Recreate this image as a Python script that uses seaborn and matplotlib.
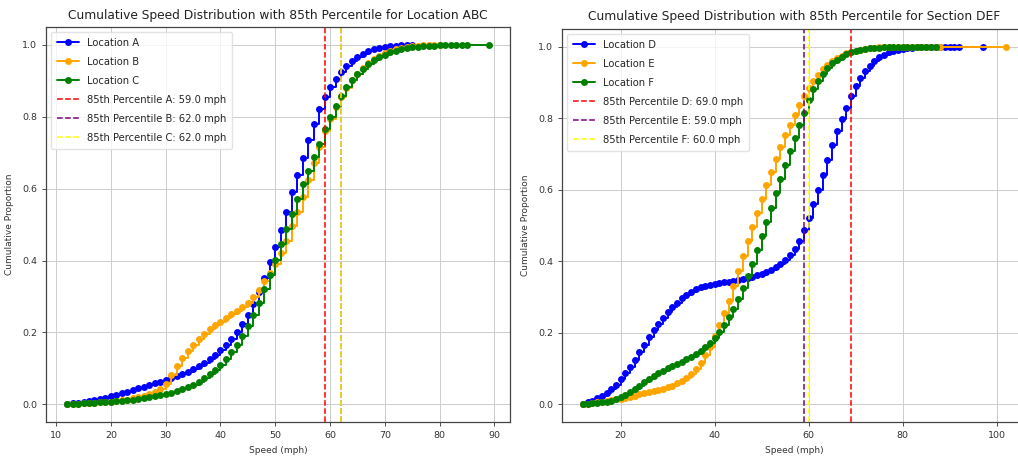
import numpy as np
import pandas as pd
import matplotlib
matplotlib.use('Agg')
import matplotlib.pyplot as plt
import seaborn as sns

# speeds (mph) and cumulative proportions
speeds_a = list(range(12, 76))
cum_a = [0.001, 0.002, 0.004, 0.006, 0.008, 0.011, 0.014, 0.018, 0.022, 0.026,
         0.030, 0.035, 0.040, 0.044, 0.049, 0.054, 0.058, 0.063, 0.068, 0.073,
         0.079, 0.085, 0.091, 0.098, 0.106, 0.115, 0.125, 0.136, 0.150, 0.165,
         0.182, 0.200, 0.222, 0.248, 0.278, 0.312, 0.352, 0.395, 0.438, 0.485,
         0.535, 0.590, 0.638, 0.685, 0.735, 0.780, 0.822, 0.855, 0.882, 0.905,
         0.925, 0.942, 0.955, 0.967, 0.976, 0.983, 0.988, 0.992, 0.995, 0.997,
         0.998, 0.999, 0.9995, 1.0]

speeds_b = list(range(12, 81))
cum_b = [0.0005, 0.001, 0.0015, 0.002, 0.003, 0.004, 0.005, 0.006, 0.007, 0.009,
         0.011, 0.013, 0.016, 0.019, 0.023, 0.028, 0.034, 0.042, 0.055, 0.080,
         0.105, 0.128, 0.148, 0.166, 0.182, 0.196, 0.208, 0.220, 0.230, 0.240,
         0.250, 0.260, 0.270, 0.283, 0.298, 0.318, 0.342, 0.365, 0.390, 0.420,
         0.455, 0.495, 0.535, 0.578, 0.625, 0.670, 0.715, 0.760, 0.795, 0.828,
         0.855, 0.880, 0.902, 0.920, 0.936, 0.950, 0.961, 0.970, 0.977, 0.983,
         0.988, 0.992, 0.995, 0.997, 0.998, 0.999, 0.9995, 0.9998, 1.0]

speeds_c = list(range(12, 86)) + [89]
cum_c = [0.0005, 0.001, 0.0015, 0.002, 0.003, 0.004, 0.005, 0.006, 0.007, 0.008,
         0.009, 0.011, 0.013, 0.015, 0.017, 0.019, 0.022, 0.025, 0.028, 0.032,
         0.036, 0.041, 0.047, 0.054, 0.062, 0.072, 0.083, 0.096, 0.110, 0.126,
         0.144, 0.165, 0.190, 0.218, 0.248, 0.282, 0.320, 0.360, 0.402, 0.445,
         0.488, 0.530, 0.572, 0.612, 0.650, 0.688, 0.725, 0.765, 0.800, 0.830,
         0.858, 0.882, 0.902, 0.919, 0.934, 0.947, 0.957, 0.966, 0.973, 0.979,
         0.984, 0.988, 0.991, 0.993, 0.995, 0.996, 0.997, 0.998, 0.9985, 0.999,
         0.9993, 0.9995, 0.9997, 0.9998, 1.0]

speeds_d = list(range(12, 93)) + [97]
cum_d = [0.002, 0.006, 0.011, 0.017, 0.024, 0.032, 0.042, 0.055, 0.070, 0.087,
         0.105, 0.125, 0.146, 0.167, 0.188, 0.207, 0.225, 0.242, 0.258, 0.272,
         0.285, 0.297, 0.307, 0.315, 0.322, 0.327, 0.331, 0.334, 0.337, 0.339,
         0.341, 0.343, 0.345, 0.347, 0.350, 0.353, 0.357, 0.361, 0.366, 0.371,
         0.377, 0.384, 0.393, 0.404, 0.418, 0.435, 0.458, 0.487, 0.522, 0.560,
         0.600, 0.642, 0.684, 0.725, 0.763, 0.798, 0.830, 0.862, 0.889, 0.912,
         0.931, 0.947, 0.960, 0.970, 0.978, 0.984, 0.989, 0.992, 0.994, 0.996,
         0.997, 0.998, 0.9985, 0.999, 0.9993, 0.9995, 0.9996, 0.9997, 0.9998, 0.9999,
         0.9999, 1.0]

speeds_e = list(range(12, 89)) + [102]
cum_e = [0.001, 0.002, 0.004, 0.006, 0.008, 0.010, 0.012, 0.014, 0.016, 0.019,
         0.022, 0.025, 0.028, 0.031, 0.034, 0.037, 0.040, 0.044, 0.048, 0.053,
         0.059, 0.066, 0.075, 0.086, 0.100, 0.117, 0.137, 0.162, 0.192, 0.222,
         0.255, 0.290, 0.330, 0.372, 0.414, 0.456, 0.496, 0.536, 0.575, 0.613,
         0.650, 0.686, 0.720, 0.752, 0.782, 0.810, 0.838, 0.862, 0.885, 0.905,
         0.922, 0.937, 0.950, 0.960, 0.968, 0.975, 0.981, 0.985, 0.989, 0.992,
         0.994, 0.996, 0.997, 0.998, 0.9985, 0.999, 0.9992, 0.9994, 0.9995, 0.9996,
         0.9997, 0.9997, 0.9998, 0.9998, 0.9999, 0.9999, 0.9999, 1.0]

speeds_f = list(range(12, 88))
cum_f = [0.001, 0.002, 0.003, 0.004, 0.006, 0.008, 0.011, 0.015, 0.020, 0.027,
         0.035, 0.044, 0.053, 0.062, 0.071, 0.079, 0.087, 0.094, 0.101, 0.107,
         0.113, 0.119, 0.126, 0.133, 0.141, 0.150, 0.160, 0.172, 0.186, 0.203,
         0.222, 0.244, 0.268, 0.295, 0.325, 0.358, 0.394, 0.432, 0.470, 0.510,
         0.550, 0.590, 0.630, 0.670, 0.708, 0.745, 0.780, 0.815, 0.850, 0.882,
         0.905, 0.925, 0.941, 0.954, 0.964, 0.972, 0.979, 0.984, 0.988, 0.991,
         0.993, 0.995, 0.996, 0.997, 0.998, 0.9985, 0.999, 0.9993, 0.9995, 0.9996,
         0.9997, 0.9998, 0.9998, 0.9999, 0.9999, 1.0]

p85_abc = [59.0, 62.0, 62.0]
p85_def = [69.0, 59.0, 60.0]

series_colors = ['blue', 'orange', 'green']
line_colors = ['red', 'purple', 'yellow']

sns.set_style('white')
plt.rcParams['font.family'] = ['DejaVu Sans']

fig = plt.figure(figsize=(10.18, 4.62), dpi=100)
ax1 = fig.add_axes([0.0452, 0.0866, 0.4558, 0.855])
ax2 = fig.add_axes([0.552, 0.0866, 0.457, 0.851])


def draw_panel(ax, names, speeds, cums, p85, title):
    for name, x, y, c in zip(names, speeds, cums, series_colors):
        df = pd.DataFrame({'Speed': x, 'Cum': y})
        sns.lineplot(data=df, x='Speed', y='Cum', ax=ax, color=c, marker='o',
                     markersize=5, markeredgecolor=c, markeredgewidth=0,
                     linewidth=1.4, drawstyle='steps-post', label=f'Location {name}')
    for name, v, c in zip(names, p85, line_colors):
        ax.axvline(v, color=c, linestyle='--', linewidth=1.1,
                   label=f'85th Percentile {name}: {v:.1f} mph')
    ax.set_title(title, fontsize=8.8, color='#222222')
    ax.set_xlabel('Speed (mph)', fontsize=6.5, color='#333333')
    ax.set_ylabel('Cumulative Proportion', fontsize=6.5, color='#333333', labelpad=6)
    ax.tick_params(labelsize=6.8, colors='#333333', length=3, width=0.6,
                   left=True, bottom=True)
    ax.grid(True, color='#cccccc', linewidth=0.7)
    for s in ax.spines.values():
        s.set_color('#444444')
        s.set_linewidth(0.9)
    ax.legend(loc='upper left', fontsize=7.2, frameon=True, framealpha=0.8,
              edgecolor='#dddddd', handlelength=2.2, borderpad=0.6,
              labelspacing=0.9)


draw_panel(ax1, ['A', 'B', 'C'], [speeds_a, speeds_b, speeds_c],
           [cum_a, cum_b, cum_c], p85_abc,
           'Cumulative Speed Distribution with 85th Percentile for Location ABC')
draw_panel(ax2, ['D', 'E', 'F'], [speeds_d, speeds_e, speeds_f],
           [cum_d, cum_e, cum_f], p85_def,
           'Cumulative Speed Distribution with 85th Percentile for Section DEF')
ax1.set_xticks([10, 20, 30, 40, 50, 60, 70, 80, 90])

fig.savefig('out.png', dpi=100)
